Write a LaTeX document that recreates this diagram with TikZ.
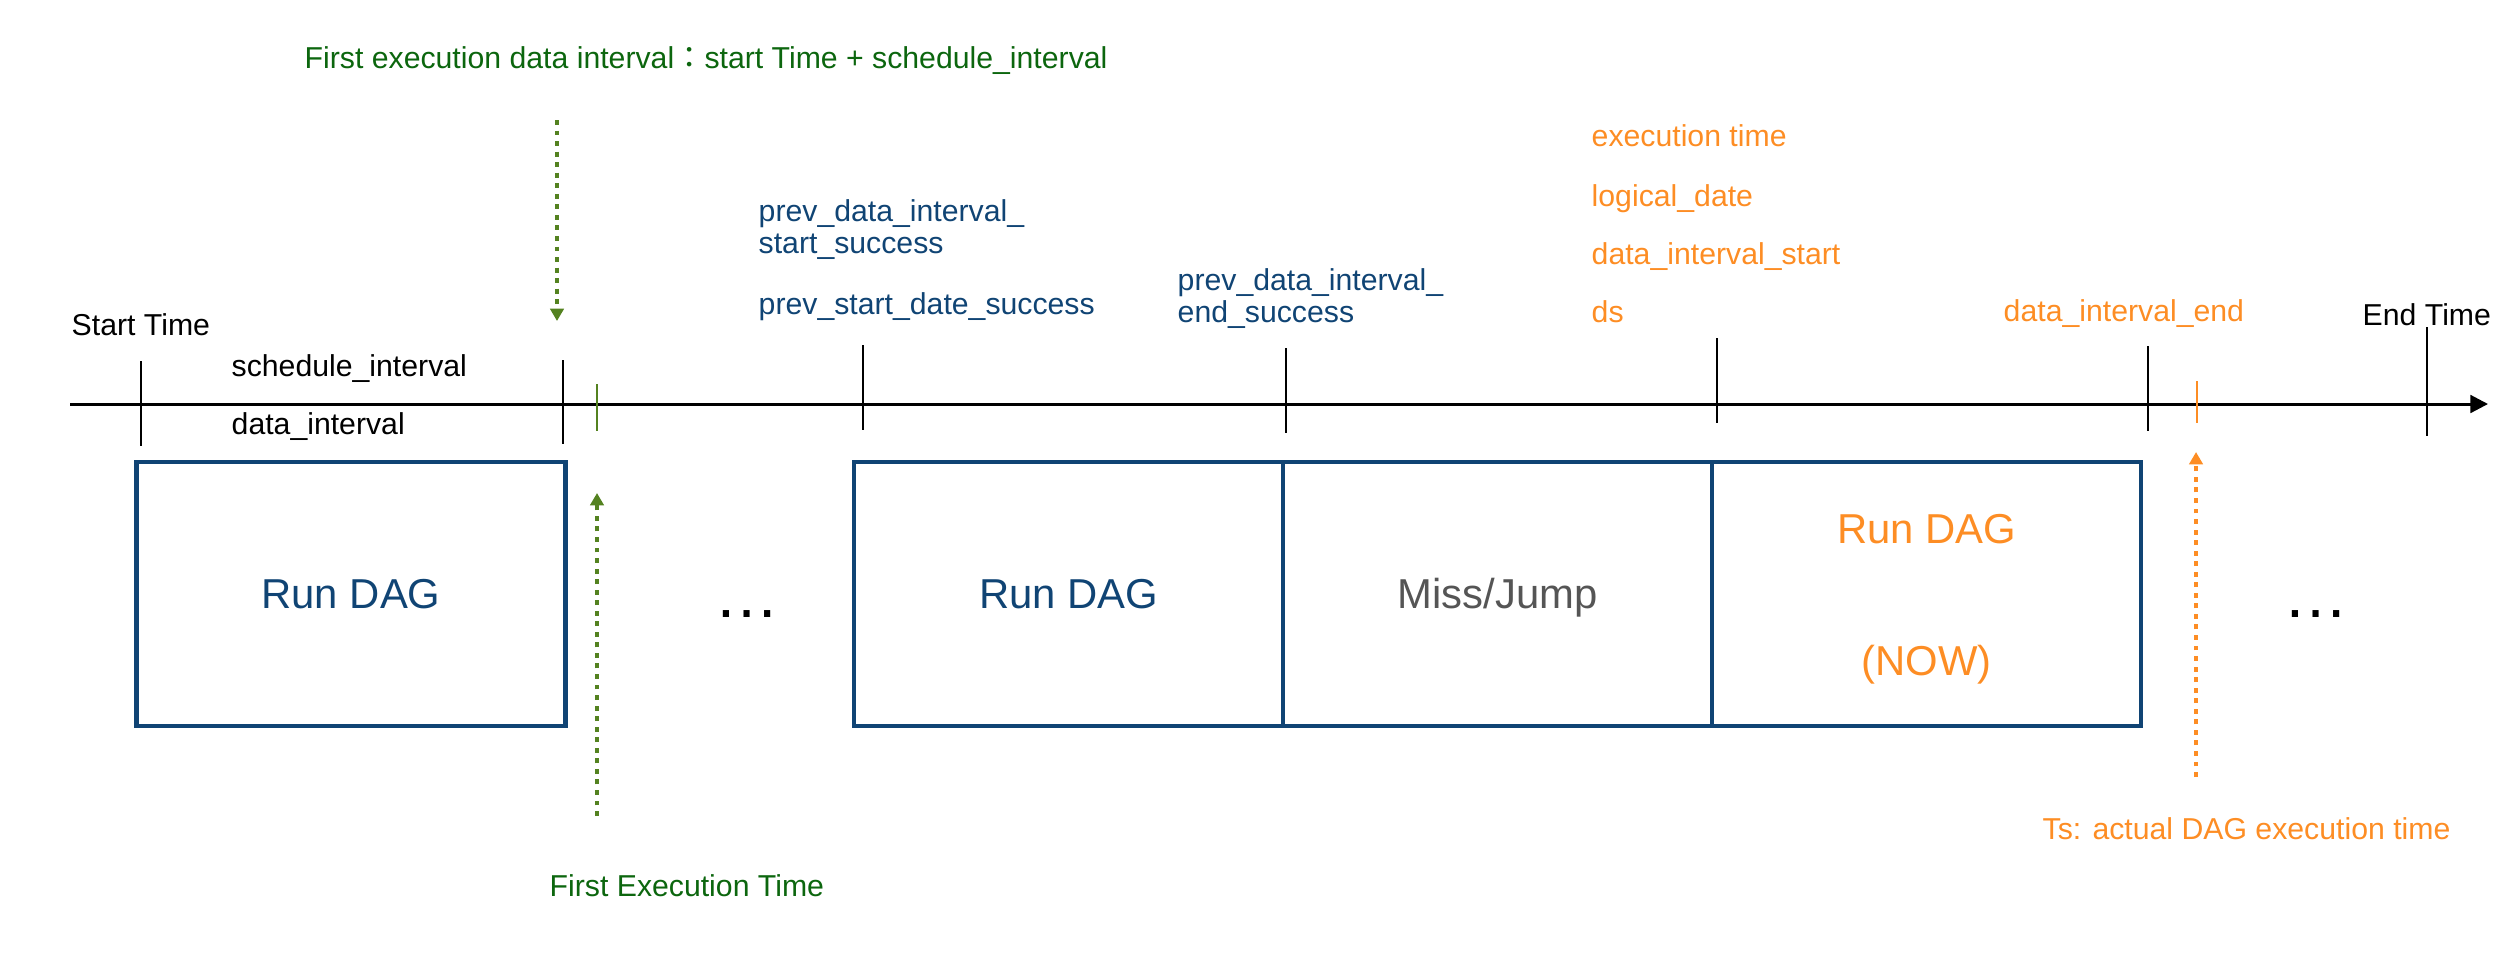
\documentclass[tikz,border=0pt]{standalone}
\usepackage{fontspec}
\setmainfont{Liberation Sans}
\newfontfamily\cjk{Noto Sans CJK TC}
\usetikzlibrary{arrows.meta,positioning}
\definecolor{dagblue}{RGB}{16,68,116}
\definecolor{dagorange}{RGB}{253,141,36}
\definecolor{titlegreen}{RGB}{12,102,14}
\definecolor{arrowgreen}{RGB}{84,130,32}
\definecolor{missgray}{RGB}{85,85,85}
\tikzset{
  tlabel/.style={inner sep=0pt, anchor=west, font=\fontsize{8.6pt}{9.1pt}\selectfont},
  tline/.style={tlabel, text height=0.72em, text depth=0.2em},
  runbox/.style={draw=dagblue, line width=1.4pt, outer sep=0pt, inner sep=0pt,
    minimum width=4.29cm, minimum height=2.64cm, align=center,
    font=\fontsize{11.9pt}{14pt}\selectfont},
  oneline/.style={text height=0.9em, text depth=0.1em},
  tickline/.style={line width=0.75pt},
  markarrow/.style={line width=0.9pt, dash pattern=on 1.4pt off 1.6pt,
    -{Triangle[width=3.8pt,length=3.5pt]}}
}

\begin{document}
\begin{tikzpicture}
    \useasboundingbox (0,0) rectangle (25.18,-9.69);

    % Time axis with its ticks
    \coordinate (axisL) at (0.70,-4.04);
    \coordinate (axisR) at (24.88,-4.04);
    \draw[line width=0.85pt, -{Triangle[width=5pt,length=5pt]}] (axisL) -- (axisR);
    \foreach \x/\top/\bot in {1.41/3.61/4.46, 5.63/3.60/4.44, 8.63/3.45/4.30,
        12.86/3.48/4.33, 17.17/3.38/4.23, 21.48/3.46/4.31, 24.27/3.27/4.36}
        \draw[tickline] (\x,-\top) -- (\x,-\bot);
    \draw[tickline, arrowgreen] (5.97,-3.84) -- (5.97,-4.31);
    \draw[tickline, dagorange] (21.97,-3.81) -- (21.97,-4.23);

    % DAG runs
    \node[runbox, oneline, text=dagblue] (run1) at (3.51,-5.94) {Run DAG};
    \node[runbox, oneline, text=dagblue] (run2) at (10.685,-5.94) {Run DAG};
    \node[runbox, oneline, text=missgray, right=0pt of run2] (miss) {Miss/Jump};
    \node[runbox, text=dagorange, right=0pt of miss] (run4) {\rule{0pt}{11.4pt}Run DAG\\[23.6pt](NOW)};
    \node[font=\fontsize{18.5pt}{20pt}\selectfont, anchor=base] (gap1) at (7.47,-6.17) {…};
    \node[font=\fontsize{18.5pt}{20pt}\selectfont, anchor=base] (gap2) at (23.16,-6.17) {…};

    % Axis labels
    \node[tline] (start) at (0.71,-3.26) {Start Time};
    \node[tline] (sched) at (2.31,-3.67) {schedule\_interval};
    \node[tline] (dint) at (2.31,-4.25) {data\_interval};
    \node[tline] (endtime) at (23.62,-3.16) {End Time};
    \node[tlabel, text=dagblue, align=left] (prevstart) at (7.58,-2.30) {prev\_data\_interval\_\\start\_success};
    \node[tline, text=dagblue] (prevdate) at (7.58,-3.05) {prev\_start\_date\_success};
    \node[tlabel, text=dagblue, align=left] (prevend) at (11.77,-2.99) {prev\_data\_interval\_\\end\_success};
    \node[tline, text=dagorange] (exectime) at (15.91,-1.37) {execution time};
    \node[tline, text=dagorange] (logdate) at (15.91,-1.97) {logical\_date};
    \node[tline, text=dagorange] (dstart) at (15.91,-2.55) {data\_interval\_start};
    \node[tline, text=dagorange] (ds) at (15.91,-3.13) {ds};
    \node[tline, text=dagorange] (dend) at (20.03,-3.12) {data\_interval\_end};

    % First execution
    \node[tline, text=titlegreen] (firstint) at (3.04,-0.59)
        {First execution data interval{\cjk ：}start Time + schedule\_interval};
    \coordinate (gdtop) at (5.57,-1.20);
    \coordinate (gdtip) at (5.57,-3.21);
    \draw[markarrow, arrowgreen] (gdtop) -- (gdtip);
    \coordinate (gutail) at (5.97,-8.16);
    \coordinate (gutip) at (5.97,-4.93);
    \draw[markarrow, arrowgreen] (gutail) -- (gutip);
    \node[tline, text=titlegreen] (firstexec) at (5.49,-8.87) {First Execution Time};

    % Actual run time
    \coordinate (outail) at (21.96,-7.77);
    \coordinate (outip) at (21.96,-4.52);
    \draw[markarrow, dagorange] (outail) -- (outip);
    \node[tline, text=dagorange] (tsnote) at (20.42,-8.30) {Ts: actual DAG execution time};
\end{tikzpicture}
\end{document}
